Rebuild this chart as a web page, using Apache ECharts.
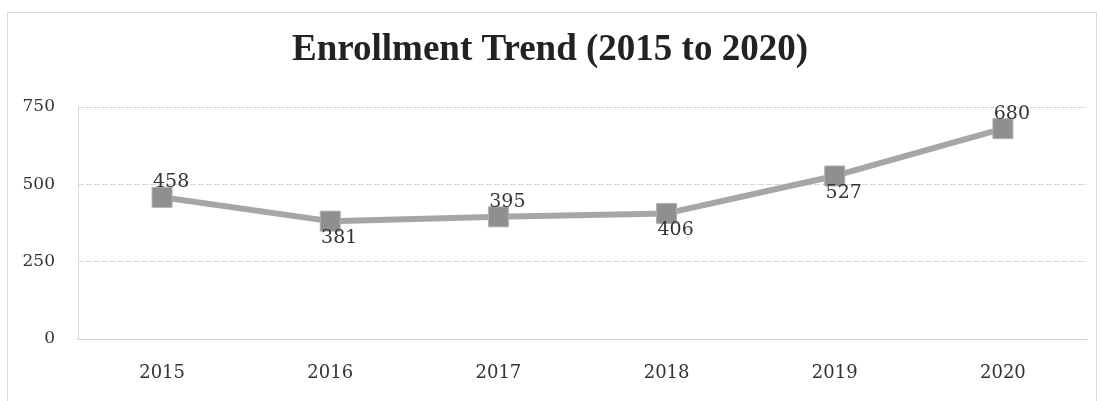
<!DOCTYPE html>
<html>
<head>
<meta charset="utf-8">
<script src="https://cdn.jsdelivr.net/npm/echarts@6/dist/echarts.min.js"></script>
<style>
html,body{margin:0;padding:0;background:#fff;}
#frame{position:absolute;left:7px;top:12px;width:1090px;height:400px;border:1px solid #d8d8d8;box-sizing:border-box;}
#chart{width:1100px;height:401px;}
</style>
</head>
<body>
<div id="frame"></div>
<div id="chart"></div>
<script>
const titleText = "Enrollment Trend (2015 to 2020)";
const years = ["2015", "2016", "2017", "2018", "2019", "2020"];
const enrollment = [458, 381, 395, 406, 527, 680];
const labelSides = ["top", "bottom", "top", "bottom", "bottom", "top"];
const yTicks = [0, 250, 500, 750];

const chart = echarts.init(document.getElementById('chart'));
const seriesData = enrollment.map((v, i) => ({
  value: v,
  label: {
    position: labelSides[i],
    distance: labelSides[i] === 'top' ? -5 : -3,
    offset: [9, 0]
  }
}));
chart.setOption({
  backgroundColor: 'transparent',
  title: {
    text: titleText,
    left: 'center',
    top: 27,
    textStyle: {
      fontFamily: 'Liberation Serif',
      fontWeight: 'bold',
      fontSize: 37,
      color: '#222'
    }
  },
  grid: { left: 78, right: 13, top: 107, bottom: 62 },
  xAxis: {
    type: 'category',
    data: years,
    boundaryGap: true,
    axisLine: { show: true, lineStyle: { color: '#cfcfcf' } },
    axisTick: { show: false },
    axisLabel: {
      fontFamily: 'DejaVu Serif',
      fontSize: 18,
      color: '#333',
      margin: 25
    }
  },
  yAxis: {
    type: 'value',
    min: yTicks[0],
    max: yTicks[yTicks.length - 1],
    interval: 250,
    axisLine: { show: true, lineStyle: { color: '#d8d8d8' } },
    axisTick: { show: false },
    splitLine: { lineStyle: { color: '#d6d6d6', type: [6, 2] } },
    axisLabel: {
      fontFamily: 'DejaVu Serif',
      fontSize: 17,
      color: '#333',
      margin: 23
    }
  },
  series: [{
    type: 'line',
    data: seriesData,
    symbol: 'rect',
    symbolSize: 20,
    lineStyle: { color: '#a6a6a6', width: 6 },
    itemStyle: { color: '#8f8f8f', borderColor: '#b0b0b0', borderWidth: 1 },
    label: {
      show: true,
      fontFamily: 'DejaVu Serif',
      fontSize: 19,
      color: '#333'
    },
    animation: false
  }],
  animation: false
});
</script>
</body>
</html>
